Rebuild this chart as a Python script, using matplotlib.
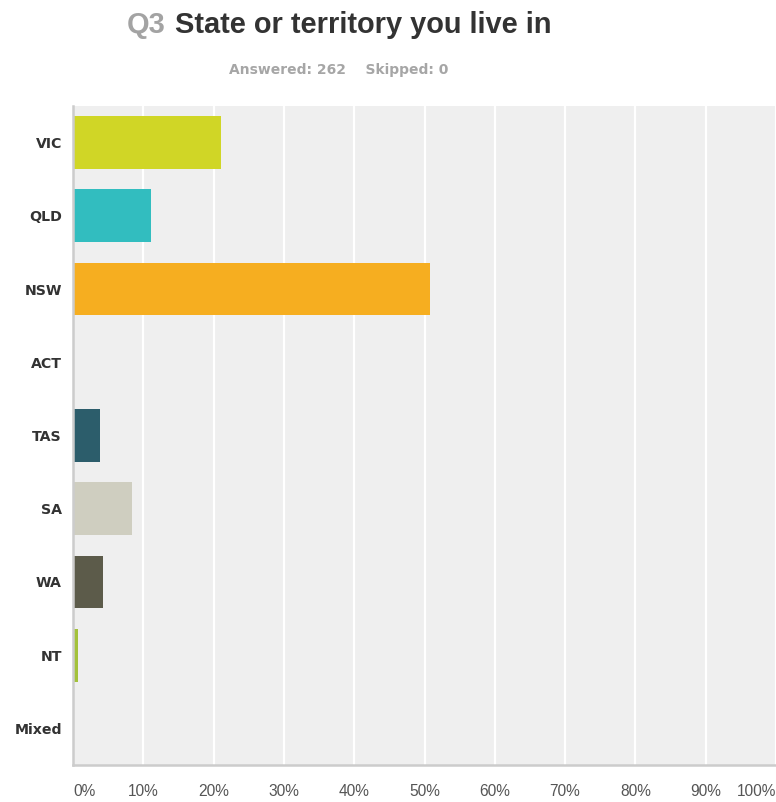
import matplotlib.pyplot as plt
import numpy as np

# survey responses, percent of 262 answered
states = ['VIC', 'QLD', 'NSW', 'ACT', 'TAS', 'SA', 'WA', 'NT', 'Mixed']
percent = [20.99, 11.07, 50.76, 0.0, 3.82, 8.40, 4.20, 0.76, 0.0]
colors = ['#d0d626', '#32bdbf', '#f6ae20', '#a1a2a5', '#2c5d6b',
          '#cfcec0', '#5c5b4a', '#a3c23a', '#888888']
x_ticks = [0, 10, 20, 30, 40, 50, 60, 70, 80, 90, 100]
x_labels = [str(t) + '%' for t in x_ticks]

W, H = 776, 802
fig = plt.figure(figsize=(W / 100, H / 100), dpi=100)
ax = fig.add_axes([73 / W, 1 - 765 / H, 703 / W, 659 / H])

y = np.arange(len(states))
ax.barh(y, percent, height=0.72, color=colors, zorder=3)

ax.set_facecolor('#efefef')
ax.set_xlim(0, 100)
ax.set_ylim(len(states) - 0.5, -0.5)
ax.set_yticks(y)
ax.set_yticklabels(states, fontsize=10.2, fontweight='bold', color='#333333',
                   family='DejaVu Sans')
ax.set_xticks(x_ticks)
ax.set_xticklabels(x_labels, fontsize=11.2, color='#555555', family='Liberation Sans')
xl = ax.get_xticklabels()
xl[0].set_ha('left')
xl[-1].set_ha('right')
ax.tick_params(axis='y', length=0, pad=8)
ax.tick_params(axis='x', length=0, pad=13.5)
ax.grid(axis='x', color='white', linewidth=1.6, zorder=1)

for side in ['top', 'right']:
    ax.spines[side].set_visible(False)
for side in ['left', 'bottom']:
    ax.spines[side].set_color('#cccccc')
    ax.spines[side].set_linewidth(1.8)
    ax.spines[side].set_zorder(4)

# title block
fig.text(127 / W, 1 - 33 / H, 'Q3', fontsize=20.9, fontweight='bold', color='#a3a3a3',
         family='Liberation Sans', va='baseline', ha='left')
fig.text(175 / W, 1 - 33 / H, 'State or territory you live in', fontsize=20.9,
         fontweight='bold', color='#333333', family='Liberation Sans',
         va='baseline', ha='left')
fig.text(229 / W, 1 - 74 / H, 'Answered: 262    Skipped: 0', fontsize=10,
         fontweight='bold', color='#a6a6a6', family='DejaVu Sans',
         va='baseline', ha='left')

plt.savefig('out.png', dpi=100)
